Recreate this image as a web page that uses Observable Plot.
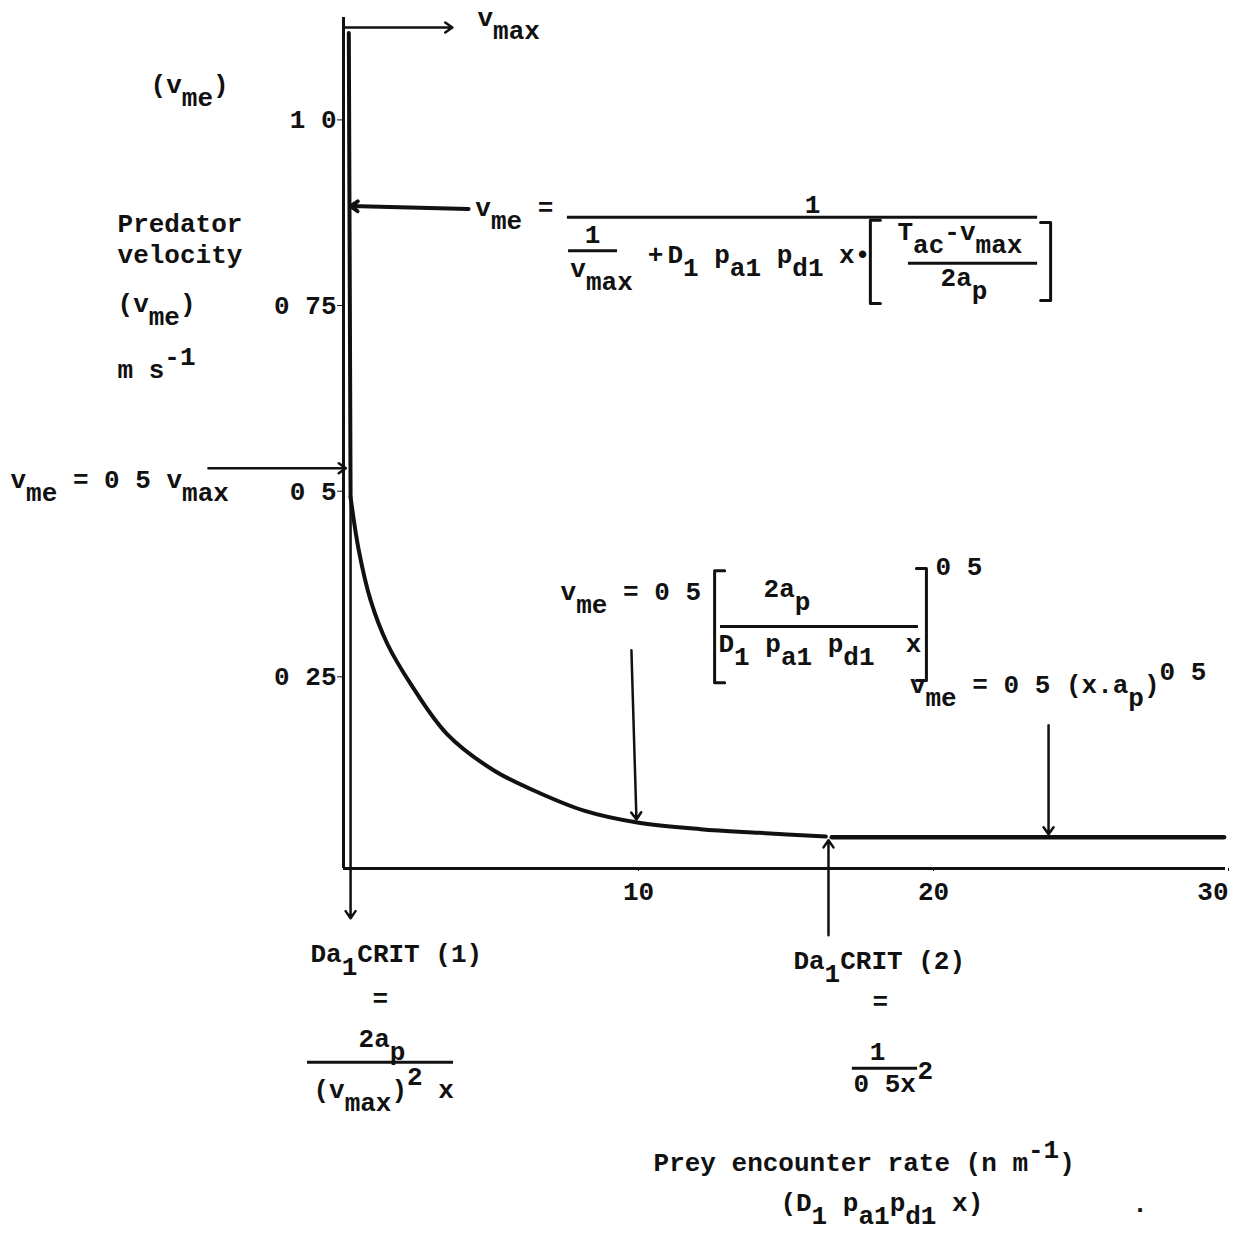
<!DOCTYPE html>
<html><head><meta charset="utf-8">
<script src="https://cdn.jsdelivr.net/npm/d3@7"></script>
<script src="https://cdn.jsdelivr.net/npm/@observablehq/plot@0.6"></script>
<style>
html,body{margin:0;padding:0;background:#fff;}
#chart svg{display:block;}
</style></head><body><div id="chart"></div>
<script>
// ---- data ----
const xTicks = [10, 20, 30];
const xTickLabels = ["10", "20", "30"];
const yTicks = [0.25, 0.5, 0.75, 1.0];
const yTickLabels = ["0 25", "0 5", "0 75", "1 0"];

// vertical (v_max) part of the curve
const vmaxX = [0.18, 0.24];
const vmaxY = [1.125, 0.50];
// decaying part
const decayX = [0.24, 0.52, 0.92, 1.48, 2.27, 3.51, 5.10, 6.68, 8.15, 9.96, 12.1, 14.1, 16.35];
const decayY = [0.50, 0.428, 0.361, 0.303, 0.249, 0.181, 0.132, 0.101, 0.078, 0.062, 0.053, 0.048, 0.043];
// flat part
const flatX = [16.55, 29.85];
const flatY = [0.042, 0.042];

// ---- annotation layout (data units) ----
const textsStart = [
  {x: 4.54, y: 1.135, t: "v_{max}"},
  {x: -6.54, y: 1.044, t: "(v_{me})"},
  {x: -7.66, y: 0.8565, t: "Predator"},
  {x: -7.66, y: 0.8147, t: "velocity"},
  {x: -7.66, y: 0.749, t: "(v_{me})"},
  {x: -7.66, y: 0.661, t: "m s^{-1}"},
  {x: -11.29, y: 0.512, t: "v_{me} = 0 5 v_{max}"},
  {x: 4.47, y: 0.879, t: "v_{me} ="},
  {x: 7.69, y: 0.796, t: "v_{max}"},
  {x: 10.98, y: 0.816, t: "D_{1} p_{a1} p_{d1} x•"},
  {x: 18.78, y: 0.846, t: "T_{ac}-v_{max}"},
  {x: 20.24, y: 0.785, t: "2a_{p}"},
  {x: 7.36, y: 0.361, t: "v_{me} = 0 5"},
  {x: 14.24, y: 0.365, t: "2a_{p}"},
  {x: 12.71, y: 0.291, t: "D_{1} p_{a1} p_{d1}  x"},
  {x: 20.07, y: 0.395, t: "0 5"},
  {x: 19.2, y: 0.2357, t: "v_{me} = 0 5 (x.a_{p})^{0 5}"},
  {x: -1.12, y: -0.126, t: "Da_{1}CRIT (1)"},
  {x: 0.51, y: -0.2397, t: "2a_{p}"},
  {x: -1.02, y: -0.309, t: "(v_{max})^{2} x"},
  {x: 15.25, y: -0.135, t: "Da_{1}CRIT (2)"},
  {x: 17.29, y: -0.3003, t: "0 5x"},
  {x: 19.46, y: -0.2828, t: "2"},
  {x: 10.51, y: -0.407, t: "Prey encounter rate (n m^{-1})"},
  {x: 14.81, y: -0.461, t: "(D_{1} p_{a1}p_{d1} x)"}
];
const textsMiddle = [
  {x: 15.9, y: 0.883, t: "1"},
  {x: 8.44, y: 0.842, t: "1"},
  {x: 10.58, y: 0.816, t: "+"},
  {x: 1.25, y: -0.186, t: "="},
  {x: 18.2, y: -0.191, t: "="},
  {x: 18.1, y: -0.2585, t: "1"},
  {x: 27.0, y: -0.463, t: "."}
];
const bars = [
  {x1: 7.59, x2: 23.53, y: 0.877},
  {x1: 7.63, x2: 9.29, y: 0.832},
  {x1: 19.15, x2: 23.53, y: 0.815},
  {x1: 12.78, x2: 19.49, y: 0.326},
  {x1: -1.22, x2: 3.73, y: -0.261},
  {x1: 17.25, x2: 19.46, y: -0.269}
];
const brackets = [
  {id: "a", x: 18.2, y: 0.873}, {id: "a", x: 17.86, y: 0.873}, {id: "a", x: 17.86, y: 0.761}, {id: "a", x: 18.2, y: 0.761},
  {id: "b", x: 23.63, y: 0.870}, {id: "b", x: 23.97, y: 0.870}, {id: "b", x: 23.97, y: 0.765}, {id: "b", x: 23.63, y: 0.765},
  {id: "c", x: 12.92, y: 0.401}, {id: "c", x: 12.58, y: 0.401}, {id: "c", x: 12.58, y: 0.250}, {id: "c", x: 12.92, y: 0.250},
  {id: "d", x: 19.42, y: 0.404}, {id: "d", x: 19.76, y: 0.404}, {id: "d", x: 19.76, y: 0.253}, {id: "d", x: 19.42, y: 0.253}
];
const arrows = [
  {x1: 0, y1: 1.1325, x2: 3.69, y2: 1.1325, w: 2.5},
  {x1: 4.24, y1: 0.888, x2: 0.24, y2: 0.892, w: 4},
  {x1: -4.58, y1: 0.539, x2: 0.08, y2: 0.539, w: 2.5},
  {x1: 9.76, y1: 0.294, x2: 9.93, y2: 0.066, w: 2.5},
  {x1: 23.9, y1: 0.193, x2: 23.9, y2: 0.046, w: 2.5},
  {x1: 16.44, y1: -0.090, x2: 16.44, y2: 0.038, w: 2.5},
  {x1: 0.24, y1: 0.50, x2: 0.24, y2: -0.067, w: 2.5}
];

const INK = "#111";
const FONT = "'Liberation Mono', 'DejaVu Sans Mono', monospace";
const vmax = vmaxX.map((x, i) => ({x, y: vmaxY[i]}));
const decay = decayX.map((x, i) => ({x, y: decayY[i]}));
const flat = flatX.map((x, i) => ({x, y: flatY[i]}));
const xLabel = d => xTickLabels[xTicks.indexOf(d)];

const plot = Plot.plot({
  width: 1237, height: 1237,
  marginLeft: 343, marginRight: 9, marginTop: 14, marginBottom: 369,
  x: {domain: [0, 30]},
  y: {domain: [0, 1.15]},
  style: {fontFamily: FONT, fontSize: "26px", fontWeight: "bold", color: INK, background: "#fff", overflow: "visible"},
  marks: [
    Plot.ruleX([0], {y1: 0, y2: 1.146, stroke: INK, strokeWidth: 3}),
    Plot.ruleY([0], {x1: 0, x2: 29.9, stroke: INK, strokeWidth: 3}),
    Plot.axisY({ticks: yTicks, tickFormat: d => yTickLabels[yTicks.indexOf(d)], tickSize: 6, tickPadding: 1, dy: -6, label: null, stroke: INK, fill: INK}),
    Plot.axisX({ticks: xTicks.slice(0, -1), tickFormat: xLabel, tickSize: 3, tickPadding: 10, label: null, stroke: INK, fill: INK}),
    Plot.axisX({ticks: xTicks.slice(-1), tickFormat: xLabel, tickSize: 3, tickPadding: 10, textAnchor: "end", label: null, stroke: INK, fill: INK}),
    Plot.line(vmax, {x: "x", y: "y", stroke: INK, strokeWidth: 4}),
    Plot.line(decay, {x: "x", y: "y", stroke: INK, strokeWidth: 4, curve: "catmull-rom"}),
    Plot.line(flat, {x: "x", y: "y", stroke: INK, strokeWidth: 4.5}),
    Plot.arrow(arrows, {x1: "x1", y1: "y1", x2: "x2", y2: "y2", stroke: INK, strokeWidth: d => d.w, headLength: 13, headAngle: 70}),
    Plot.ruleY(bars, {x1: "x1", x2: "x2", y: "y", stroke: INK, strokeWidth: 3}),
    Plot.line(brackets, {x: "x", y: "y", z: "id", stroke: INK, strokeWidth: 3}),
    Plot.text(textsStart, {x: "x", y: "y", text: "t", textAnchor: "start", lineAnchor: "bottom", fill: INK}),
    Plot.text(textsMiddle, {x: "x", y: "y", text: "t", textAnchor: "middle", lineAnchor: "bottom", fill: INK})
  ]
});

// turn _{..} and ^{..} markup into shifted tspans (typewriter half-line shifts)
const SUB = 13, SUP = -13;
const NS = "http://www.w3.org/2000/svg";
plot.querySelectorAll("text").forEach(el => {
  if (el.querySelector("tspan")) return;
  const s = el.textContent;
  const parts = [];
  let buf = "", i = 0;
  while (i < s.length) {
    if ((s[i] === "_" || s[i] === "^") && s[i + 1] === "{") {
      if (buf) parts.push({t: buf, shift: 0});
      buf = "";
      const j = s.indexOf("}", i);
      parts.push({t: s.slice(i + 2, j), shift: s[i] === "_" ? SUB : SUP});
      i = j + 1;
    } else { buf += s[i]; i++; }
  }
  if (buf) parts.push({t: buf, shift: 0});
  el.textContent = "";
  let cur = 0;
  for (const p of parts) {
    const ts = document.createElementNS(NS, "tspan");
    const d = p.shift - cur;
    if (d) ts.setAttribute("dy", d);
    ts.textContent = p.t.replace(/ /g, "\u00a0");
    el.appendChild(ts);
    cur = p.shift;
  }
});

document.getElementById("chart").appendChild(plot);
</script>
</body></html>
